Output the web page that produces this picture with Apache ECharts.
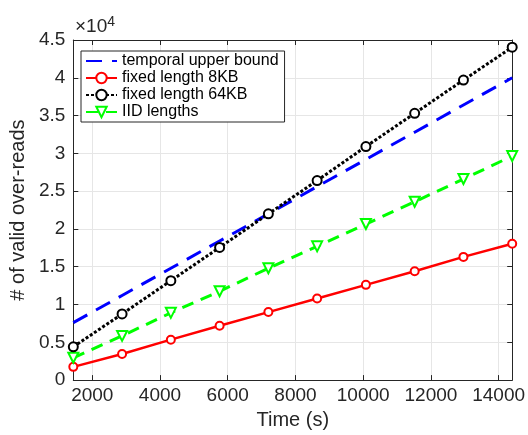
<!DOCTYPE html>
<html>
<head>
<meta charset="utf-8">
<script src="https://cdn.jsdelivr.net/npm/echarts@6/dist/echarts.min.js"></script>
<style>
html,body{margin:0;padding:0;background:#fff;}
#chart{width:528px;height:435px;}
</style>
</head>
<body>
<div id="chart"></div>
<script>
// Data
var timeSeconds = [1440, 2880, 4320, 5760, 7200, 8640, 10080, 11520, 12960, 14400];
var temporalUpperBound = [7600, 11200, 14800, 18400, 22000, 25600, 29200, 32800, 36400, 40000];
var fixedLength8KB = [1750, 3450, 5350, 7200, 9000, 10800, 12600, 14400, 16300, 18050];
var fixedLength64KB = [4400, 8750, 13150, 17550, 22000, 26400, 30900, 35300, 39700, 44050];
var iidLengths = [2950, 5850, 8900, 11750, 14800, 17700, 20650, 23600, 26600, 29650];
var xTickValues = [2000, 4000, 6000, 8000, 10000, 12000, 14000];
var seriesNames = ['temporal upper bound', 'fixed length 8KB', 'fixed length 64KB', 'IID lengths'];

function pairs(ys) { return timeSeconds.map(function (t, i) { return [t, ys[i]]; }); }

var FONT = '"Liberation Sans", Arial, Helvetica, sans-serif';
var TXT = '#262626';
var chart = echarts.init(document.getElementById('chart'), null, {renderer: 'canvas'});
var axisLineStyle = {color: TXT, width: 1};
var option = {
  animation: false,
  backgroundColor: '#fff',
  textStyle: {fontFamily: FONT, color: TXT},
  title: {
    text: '×10{s|4}',
    left: 70, top: 10,
    textStyle: {fontFamily: FONT, fontSize: 19, fontWeight: 'normal', color: TXT,
      rich: {s: {fontFamily: FONT, fontSize: 14, color: TXT, verticalAlign: 'top', padding: [0, 0, 10, 0]}}}
  },
  legend: {
    data: [{name: seriesNames[0], itemStyle: {opacity: 0}}, seriesNames[1], seriesNames[2], seriesNames[3]],
    orient: 'vertical',
    left: 81, top: 51,
    padding: [2, 6, 2, 4],
    itemGap: 1,
    itemWidth: 31,
    itemHeight: 13,
    backgroundColor: '#fff',
    borderColor: TXT,
    borderWidth: 1,
    borderRadius: 0,
    textStyle: {fontFamily: FONT, fontSize: 16, color: '#000', lineHeight: 15}
  },
  grid: {left: 71, right: 14, top: 40, bottom: 47, containLabel: false},
  xAxis: [{
    type: 'value', min: 1440, max: 14400,
    name: 'Time (s)', nameLocation: 'middle', nameGap: 22,
    nameTextStyle: {fontFamily: FONT, fontSize: 20, color: TXT},
    axisLine: {lineStyle: axisLineStyle, onZero: false},
    axisTick: {inside: true, length: 5, lineStyle: axisLineStyle, customValues: xTickValues},
    axisLabel: {fontFamily: FONT, fontSize: 19, color: TXT, margin: 6, customValues: xTickValues,
      formatter: function (v) { return String(v); }},
    splitLine: {show: true, lineStyle: {color: '#e6e6e6', width: 1}}
  }, {
    type: 'value', min: 1440, max: 14400, position: 'top',
    axisLine: {lineStyle: axisLineStyle, onZero: false},
    axisTick: {inside: true, length: 5, lineStyle: axisLineStyle, customValues: xTickValues},
    axisLabel: {show: false},
    splitLine: {show: false}
  }],
  yAxis: [{
    type: 'value', min: 0, max: 45000, interval: 5000,
    name: '# of valid over-reads', nameLocation: 'middle', nameGap: 35,
    nameTextStyle: {fontFamily: FONT, fontSize: 20, color: TXT},
    axisLine: {show: true, lineStyle: axisLineStyle, onZero: false},
    axisTick: {show: true, inside: true, length: 5, lineStyle: axisLineStyle},
    axisLabel: {fontFamily: FONT, fontSize: 19, color: TXT, margin: 8,
      formatter: function (v) { return String(v / 10000); }},
    splitLine: {show: true, lineStyle: {color: '#e6e6e6', width: 1}}
  }, {
    type: 'value', min: 0, max: 45000, interval: 5000, position: 'right',
    axisLine: {show: true, lineStyle: axisLineStyle, onZero: false},
    axisTick: {show: true, inside: true, length: 5, lineStyle: axisLineStyle},
    axisLabel: {show: false},
    splitLine: {show: false}
  }],
  series: [{
    name: seriesNames[0], type: 'line', data: pairs(temporalUpperBound),
    symbol: 'none', z: 2,
    lineStyle: {color: '#0000ff', width: 3, type: [16, 10]},
    itemStyle: {color: '#0000ff'}
  }, {
    name: seriesNames[1], type: 'line', data: pairs(fixedLength8KB),
    symbol: 'emptyCircle', symbolSize: 8, z: 3,
    lineStyle: {color: '#ff0000', width: 2.5, type: 'solid'},
    itemStyle: {color: '#ff0000', borderColor: '#ff0000', borderWidth: 2.5}
  }, {
    name: seriesNames[2], type: 'line', data: pairs(fixedLength64KB),
    symbol: 'emptyCircle', symbolSize: 9, z: 4,
    lineStyle: {color: '#000000', width: 3, type: [3, 2]},
    itemStyle: {color: '#000000', borderColor: '#000000', borderWidth: 2.5}
  }, {
    name: seriesNames[3], type: 'line', data: pairs(iidLengths),
    symbol: 'emptyTriangle', symbolRotate: 180, symbolSize: 10, z: 3,
    lineStyle: {color: '#00ff00', width: 3, type: [12, 8]},
    itemStyle: {color: '#00ff00', borderColor: '#00ff00', borderWidth: 2.5}
  }]
};
chart.setOption(option);
</script>
</body>
</html>
